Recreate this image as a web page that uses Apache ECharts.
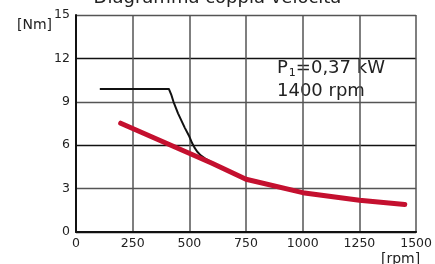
<!DOCTYPE html>
<html>
<head>
<meta charset="utf-8">
<script src="https://cdn.jsdelivr.net/npm/echarts@6/dist/echarts.min.js"></script>
<style>
  html, body { margin: 0; padding: 0; background: #fff; }
  #chart { width: 435px; height: 264px; }
</style>
</head>
<body>
<div id="chart"></div>
<script>
// torque (Nm) vs speed (rpm)
const titleText = 'Diagramma coppia velocità'
const xTicks = [0, 250, 500, 750, 1000, 1250, 1500]
const yTicks = [0, 3, 6, 9, 12, 15]
const blackRpm = [105, 410, 414, 420, 430, 450, 480, 500, 512, 522, 535, 550, 570, 600]
const blackNm = [9.88, 9.88, 9.8, 9.5, 9.0, 8.2, 7.2, 6.6, 6.15, 5.85, 5.55, 5.3, 5.08, 4.82]
const redRpm = [197, 600, 750, 1000, 1250, 1450]
const redNm = [7.52, 4.75, 3.65, 2.72, 2.2, 1.9]

const font = 'DejaVu Sans'
const chart = echarts.init(document.getElementById('chart'))

const option = {
  animation: false,
  title: {
    text: titleText,
    left: 'center',
    top: -16,
    textStyle: { fontFamily: font, fontSize: 18, fontWeight: 'normal', color: '#222' }
  },
  grid: { left: 76, right: 17, top: 15, bottom: 32 },
  xAxis: {
    type: 'value',
    min: xTicks[0],
    max: xTicks[xTicks.length - 1],
    interval: 250,
    axisLine: { lineStyle: { color: '#111', width: 2 } },
    axisTick: { show: false },
    axisLabel: { fontFamily: font, fontSize: 12.5, color: '#222', margin: 5, formatter: v => String(v) },
    splitLine: { lineStyle: { color: '#555', width: 1.5 } }
  },
  yAxis: {
    type: 'value',
    min: yTicks[0],
    max: yTicks[yTicks.length - 1],
    interval: 3,
    axisLine: { show: true, lineStyle: { color: '#111', width: 2 } },
    axisTick: { show: false },
    axisLabel: { fontFamily: font, fontSize: 12.5, color: '#222', margin: 6, padding: [3, 0, 0, 0] },
    splitLine: { lineStyle: { color: ['#111', '#555'], width: 1.3 } }
  },
  graphic: [
    {
      type: 'text', left: 17, top: 18,
      style: { text: '[Nm]', fontFamily: font, fontSize: 14, fill: '#222' }
    },
    {
      type: 'text', left: 381, top: 252,
      style: { text: '[rpm]', fontFamily: font, fontSize: 14, fill: '#222' }
    },
    {
      type: 'text', left: 277, top: 58,
      style: {
        text: '{a|P}{s|1}{a|=0,37 kW}\n{a|1400 rpm}',
        fill: '#222',
        rich: {
          a: { fontFamily: font, fontSize: 18, lineHeight: 23, fill: '#222' },
          s: { fontFamily: font, fontSize: 11, lineHeight: 23, padding: [10, 0, 0, 1], fill: '#222' }
        }
      }
    }
  ],
  series: [
    {
      type: 'line',
      data: blackRpm.map((r, i) => [r, blackNm[i]]),
      showSymbol: false,
      lineStyle: { color: '#111', width: 2, join: 'round' },
      z: 3
    },
    {
      type: 'line',
      data: redRpm.map((r, i) => [r, redNm[i]]),
      showSymbol: false,
      lineStyle: { color: '#c4102f', width: 5, cap: 'round', join: 'round' },
      z: 4
    }
  ]
}

chart.setOption(option)
</script>
</body>
</html>
